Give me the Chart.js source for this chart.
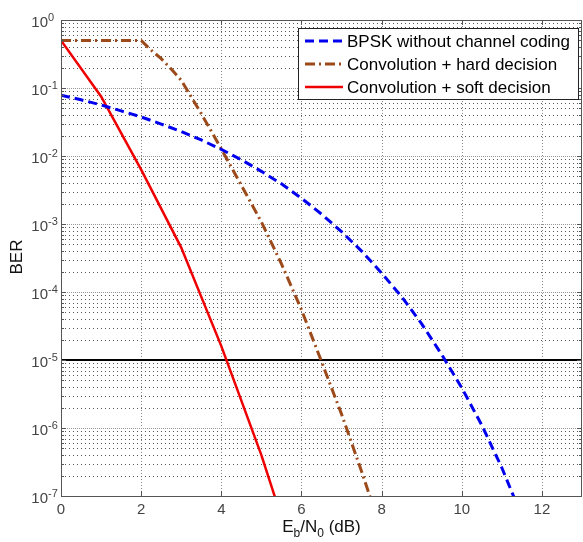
<!DOCTYPE html>
<html>
<head>
<meta charset="utf-8">
<script src="https://cdn.jsdelivr.net/npm/chart.js@4.4.1/dist/chart.umd.min.js"></script>
<style>
  html, body { margin: 0; padding: 0; background: #fff; }
  #wrap { width: 583px; height: 542px; }
</style>
</head>
<body>
<div id="wrap"><canvas id="berChart" width="583" height="542"></canvas></div>
<script>
// values
const bpskEbN0 = [0, 0.5, 1, 1.5, 2, 2.5, 3, 3.5, 4, 4.5, 5, 5.5, 6, 6.5, 7, 7.5, 8, 8.5, 9, 9.5, 10, 10.5, 11, 11.5, 12];
const bpskBer = [7.86e-2, 6.7e-2, 5.63e-2, 4.6e-2, 3.75e-2, 2.95e-2, 2.29e-2, 1.72e-2, 1.25e-2, 8.8e-3, 5.95e-3, 3.9e-3,
    2.39e-3, 1.4e-3, 7.7e-4, 4.0e-4, 1.9e-4, 8.5e-5, 3.4e-5, 1.2e-5, 3.9e-6, 1.1e-6, 2.6e-7, 5e-8, 9e-9];

const hardEbN0 = [0, 1, 2, 2.25, 2.5, 2.75, 3, 3.5, 4, 4.5, 5, 5.5, 6, 6.5, 7, 7.5, 8];
const hardBer = [0.5, 0.5, 0.5, 0.36, 0.27, 0.19, 0.13, 0.042, 0.0127, 3.7e-3, 1.07e-3, 2.6e-4, 5.5e-5, 9.5e-6, 1.6e-6, 2.3e-7, 3e-8];

const softEbN0 = [0, 1, 2, 3, 4, 5, 6];
const softBer = [0.5, 0.075, 6.3e-3, 4.5e-4, 1.6e-5, 4e-7, 6e-9];

const targetBer = 1e-5;
const xRange = [0, 13];
const xTicks = [0, 2, 4, 6, 8, 10, 12];
const yExponents = [0, -1, -2, -3, -4, -5, -6, -7];

const legendLabels = ['BPSK without channel coding', 'Convolution + hard decision', 'Convolution + soft decision'];

const toPoints = (xs, ys) => xs.map((x, i) => ({x, y: ys[i]}));

const FONT = '"Liberation Sans", Arial, sans-serif';

const matlabAxes = {
    id: 'matlabAxes',
    beforeDatasetsDraw(chart) {
        const {ctx, chartArea: a, scales: {x, y}} = chart;
        ctx.save();
        ctx.lineWidth = 1;
        // vertical grid
        ctx.strokeStyle = '#8a8a8a';
        ctx.setLineDash([1, 2]);
        xTicks.forEach(v => {
            if (v === xRange[0]) return;
            const px = Math.round(x.getPixelForValue(v)) + 0.5;
            ctx.beginPath(); ctx.moveTo(px, a.top); ctx.lineTo(px, a.bottom); ctx.stroke();
        });
        // horizontal minor grid
        ctx.strokeStyle = '#555';
        ctx.setLineDash([1, 3]);
        for (let e = -7; e < 0; e++) {
            for (let m = 2; m <= 9; m++) {
                const py = Math.round(y.getPixelForValue(m * Math.pow(10, e))) + 0.5;
                ctx.beginPath(); ctx.moveTo(a.left, py); ctx.lineTo(a.right, py); ctx.stroke();
            }
        }
        // decade grid
        ctx.strokeStyle = '#999';
        ctx.setLineDash([1, 1]);
        yExponents.forEach(e => {
            const py = Math.round(y.getPixelForValue(Math.pow(10, e))) + 0.5;
            ctx.beginPath(); ctx.moveTo(a.left, py); ctx.lineTo(a.right, py); ctx.stroke();
        });
        ctx.restore();
    },
    afterDatasetsDraw(chart) {
        const {ctx, chartArea: a, scales: {x, y}} = chart;
        ctx.save();
        // box
        ctx.setLineDash([]);
        ctx.strokeStyle = '#555';
        ctx.lineWidth = 1;
        ctx.strokeRect(Math.round(a.left) + 0.5, Math.round(a.top) + 0.5,
            Math.round(a.right - a.left) - 1, Math.round(a.bottom - a.top));
        // inward ticks
        ctx.beginPath();
        xTicks.forEach(v => {
            const px = Math.round(x.getPixelForValue(v)) + 0.5;
            ctx.moveTo(px, a.bottom); ctx.lineTo(px, a.bottom - 5);
            ctx.moveTo(px, a.top); ctx.lineTo(px, a.top + 5);
        });
        for (let e = -7; e <= 0; e++) {
            for (let m = 1; m <= 9; m++) {
                if (e === 0 && m > 1) break;
                const py = Math.round(y.getPixelForValue(m * Math.pow(10, e))) + 0.5;
                const len = m === 1 ? 5 : 3;
                ctx.moveTo(a.left, py); ctx.lineTo(a.left + len, py);
                ctx.moveTo(a.right, py); ctx.lineTo(a.right - len, py);
            }
        }
        ctx.stroke();

        // y tick labels 10^e
        ctx.fillStyle = '#444';
        ctx.textBaseline = 'alphabetic';
        yExponents.forEach(e => {
            const py = y.getPixelForValue(Math.pow(10, e));
            ctx.font = '15px ' + FONT;
            ctx.textAlign = 'right';
            ctx.fillText('10', a.left - 13, py + 7);
            ctx.font = '11px ' + FONT;
            ctx.textAlign = 'left';
            ctx.fillText(String(e), a.left - 13, py + 1);
        });

        // axis titles
        ctx.fillStyle = '#111';
        ctx.font = '17px ' + FONT;
        ctx.save();
        ctx.translate(22, 257);
        ctx.rotate(-Math.PI / 2);
        ctx.textAlign = 'center';
        ctx.fillText('BER', 0, 0);
        ctx.restore();

        const parts = [['E', 17, 0], ['b', 12, 5], ['/N', 17, 0], ['0', 12, 5], [' (dB)', 17, 0]];
        let total = 0;
        parts.forEach(p => { ctx.font = p[1] + 'px ' + FONT; total += ctx.measureText(p[0]).width; });
        let cx = (a.left + a.right) / 2 - total / 2;
        ctx.textAlign = 'left';
        parts.forEach(p => {
            ctx.font = p[1] + 'px ' + FONT;
            ctx.fillText(p[0], cx, 532 + p[2]);
            cx += ctx.measureText(p[0]).width;
        });

        // legend
        const lx = 298, ly = 28, lw = 280, lh = 71;
        ctx.fillStyle = '#fff';
        ctx.fillRect(lx, ly, lw, lh);
        ctx.strokeStyle = '#222';
        ctx.lineWidth = 1;
        ctx.strokeRect(lx + 0.5, ly + 0.5, lw, lh);
        ctx.font = '17px ' + FONT;
        ctx.textBaseline = 'middle';
        legendLabels.forEach((label, i) => {
            const ds = chart.data.datasets[i];
            const ry = ly + 13 + i * 23;
            ctx.strokeStyle = ds.borderColor;
            ctx.lineWidth = ds.borderWidth;
            ctx.setLineDash(ds.borderDash || []);
            ctx.beginPath(); ctx.moveTo(lx + 7, ry); ctx.lineTo(lx + 45, ry); ctx.stroke();
            ctx.setLineDash([]);
            ctx.fillStyle = '#000';
            ctx.fillText(label, lx + 49, ry + 1);
        });
        ctx.restore();
    }
};

new Chart(document.getElementById('berChart'), {
    type: 'line',
    data: {
        datasets: [{
            label: legendLabels[0],
            data: toPoints(bpskEbN0, bpskBer),
            borderColor: '#0000ee',
            borderWidth: 3,
            borderDash: [9, 5]
        }, {
            label: legendLabels[1],
            data: toPoints(hardEbN0, hardBer),
            borderColor: '#9c4a1a',
            borderWidth: 3,
            borderDash: [10, 4, 2, 4]
        }, {
            label: legendLabels[2],
            data: toPoints(softEbN0, softBer),
            borderColor: '#ee0000',
            borderWidth: 2.5
        }, {
            label: 'target',
            data: toPoints(xRange, [targetBer, targetBer]),
            borderColor: '#000',
            borderWidth: 2
        }]
    },
    options: {
        responsive: false,
        animation: false,
        layout: {padding: {left: 61, top: 20, right: 1, bottom: 18}},
        elements: {point: {radius: 0}, line: {tension: 0, fill: false}},
        plugins: {legend: {display: false}, tooltip: {enabled: false}},
        scales: {
            x: {
                type: 'linear',
                min: xRange[0],
                max: xRange[1],
                afterBuildTicks: s => { s.ticks = xTicks.map(v => ({value: v})); },
                grid: {display: false, drawTicks: false},
                border: {display: false},
                ticks: {color: '#444', font: {family: FONT, size: 15}, padding: 5, maxRotation: 0}
            },
            y: {
                type: 'logarithmic',
                min: 1e-7,
                max: 1,
                grid: {display: false, drawTicks: false},
                border: {display: false},
                ticks: {display: false}
            }
        }
    },
    plugins: [matlabAxes]
});
</script>
</body>
</html>
